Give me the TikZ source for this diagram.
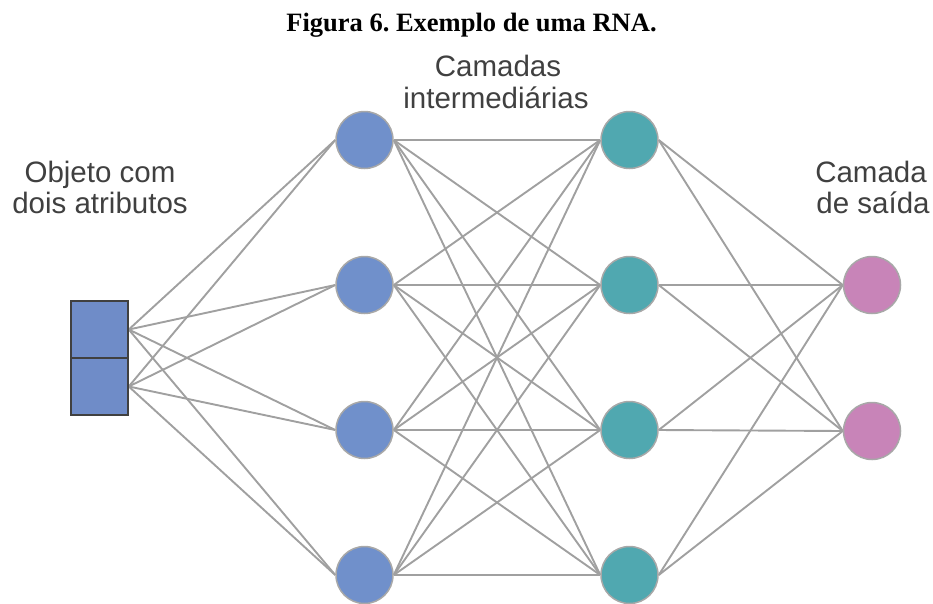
\documentclass[tikz,border=0pt]{standalone}
\usepackage{fontspec}
\setmainfont{Liberation Sans}
\newfontfamily\titlefont{Liberation Serif}
\usetikzlibrary{backgrounds}
\frenchspacing
\definecolor{inputblue}{HTML}{6F8CC8}
\definecolor{hidblue}{HTML}{7090CB}
\definecolor{hidteal}{HTML}{50A8B0}
\definecolor{outpink}{HTML}{C884B8}
\definecolor{rimgray}{HTML}{A8A8A8}
\definecolor{wiregray}{HTML}{A0A0A0}
\definecolor{labelgray}{HTML}{404040}
\tikzset{
  neuron/.style={circle, minimum size=57pt, inner sep=0pt, draw=rimgray, line width=1.5pt},
  attr/.style={rectangle, minimum width=57pt, minimum height=57pt, inner sep=0pt,
               fill=inputblue, draw=labelgray, line width=1.5pt},
  wire/.style={draw=wiregray, line width=1.9pt},
  lbl/.style={font=\fontsize{29.5}{33}\selectfont, text=labelgray, anchor=base, inner sep=0pt}
}
\begin{document}
\begin{tikzpicture}[x=1pt, y=-1pt]
  \useasboundingbox (0,0) rectangle (933,603);

  % title
  \node[anchor=base, inner sep=0pt, font=\titlefont\bfseries\fontsize{26.5}{30}\selectfont]
    (title) at (471.5,31) {Figura 6. Exemplo de uma RNA.};

  % layer labels
  \node[lbl] (hidA) at (498,76) {Camadas};
  \node[lbl] (hidB) at (496,108) {intermediárias};
  \node[lbl] (inA) at (100,182) {Objeto com};
  \node[lbl] (inB) at (100,213) {dois atributos};
  \node[lbl] (outA) at (871,182) {Camada};
  \node[lbl] (outB) at (873,213) {de saída};

  % input object with two attributes
  \node[attr] (x1) at (99.5,329.5) {};
  \node[attr] (x2) at (99.5,386.5) {};

  % first hidden layer
  \foreach \i/\y in {1/140,2/285,3/430,4/575}
    \node[neuron, fill=hidblue] (a\i) at (364.5,\y) {};
  % second hidden layer
  \foreach \i/\y in {1/140,2/285,3/430,4/575}
    \node[neuron, fill=hidteal] (b\i) at (629.5,\y) {};
  % output layer
  \node[neuron, fill=outpink] (o1) at (872,285) {};
  \node[neuron, fill=outpink] (o2) at (872,431) {};

  % connections
  \begin{scope}[on background layer]
    \foreach \s in {x1,x2}
      \foreach \t in {a1,a2,a3,a4}
        \draw[wire] (\s.east) -- (\t.west);
    \foreach \s in {a1,a2,a3,a4}
      \foreach \t in {b1,b2,b3,b4}
        \draw[wire] (\s.east) -- (\t.west);
    \foreach \s in {b1,b2,b3,b4}
      \foreach \t in {o1,o2}
        \draw[wire] (\s.east) -- (\t.west);
  \end{scope}
\end{tikzpicture}
\end{document}
